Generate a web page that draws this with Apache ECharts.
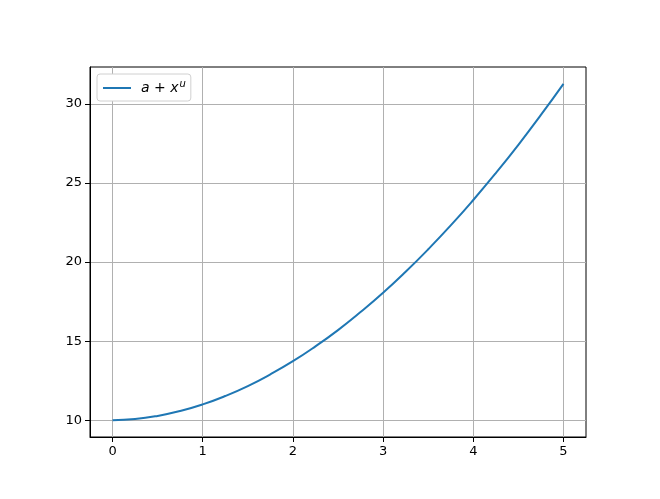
<!DOCTYPE html>
<html>
<head>
<meta charset="utf-8">
<script src="https://cdn.jsdelivr.net/npm/echarts@6/dist/echarts.min.js"></script>
<style>
  html, body { margin: 0; padding: 0; background: #fff; }
  #chart { width: 660px; height: 499px; }
</style>
</head>
<body>
<div id="chart"></div>
<script>
// 点
const xs = [0, 0.25, 0.5, 0.75, 1, 1.25, 1.5, 1.75, 2, 2.25, 2.5, 2.75, 3, 3.25, 3.5, 3.75, 4, 4.25, 4.5, 4.75, 5]
const ys = [10, 10.07, 10.27, 10.58, 11, 11.53, 12.16, 12.9, 13.73, 14.67, 15.7, 16.84, 18.06, 19.39, 20.81, 22.32, 23.93, 25.63, 27.42, 29.31, 31.28]
const xTicks = [0, 1, 2, 3, 4, 5]
const yTicks = [10, 15, 20, 25, 30]
const seriesName = 'a + x^u'

const chart = echarts.init(document.getElementById('chart'))

// 坐标轴公共样式
const axisCommon = {
  axisLine: { show: true, onZero: false, lineStyle: { color: '#000', width: 1 } },
  axisTick: { show: true, inside: false, length: 5, lineStyle: { color: '#000', width: 1 } },
  axisLabel: { color: '#000', fontFamily: 'DejaVu Sans', fontSize: 13, margin: 8 },
  splitLine: { show: true, lineStyle: { color: '#b0b0b0', width: 1 } }
}

chart.setOption({
  animation: false,
  grid: {
    left: 90, right: 74, top: 67, bottom: 62,
    show: true, borderColor: '#000', borderWidth: 1, backgroundColor: 'transparent'
  },
  xAxis: Object.assign({}, axisCommon, {
    type: 'value', min: -0.25, max: 5.25,
    axisTick: Object.assign({}, axisCommon.axisTick, { customValues: xTicks }),
    axisLabel: Object.assign({}, axisCommon.axisLabel, { customValues: xTicks })
  }),
  yAxis: Object.assign({}, axisCommon, {
    type: 'value', min: 8.936, max: 32.344,
    axisTick: Object.assign({}, axisCommon.axisTick, { customValues: yTicks }),
    axisLabel: Object.assign({}, axisCommon.axisLabel, { customValues: yTicks })
  }),
  legend: {
    left: 97, top: 74,
    orient: 'vertical',
    backgroundColor: '#fff',
    borderColor: '#d0d0d0',
    borderWidth: 1,
    borderRadius: 3,
    padding: [5, 5, 6, 6],
    itemWidth: 28, itemHeight: 14, itemGap: 6,
    icon: 'path://M0,6 L28,6 L28,8 L0,8 Z',
    formatter: () => '{g|}{i|a} + {i|x}{s|u}',
    textStyle: {
      color: '#000', fontFamily: 'DejaVu Sans', fontSize: 14,
      rich: {
        g: { width: 5 },
        i: { fontStyle: 'italic', fontFamily: 'DejaVu Sans', fontSize: 14, color: '#000' },
        s: { fontStyle: 'italic', fontFamily: 'DejaVu Sans', fontSize: 10, color: '#000', padding: [0, 0, 8, 1] }
      }
    },
    data: [{ name: seriesName, itemStyle: { color: '#1f77b4' } }]
  },
  series: [{
    name: seriesName,
    type: 'line',
    data: xs.map((x, i) => [x, ys[i]]),
    smooth: true,
    showSymbol: false,
    lineStyle: { color: '#1f77b4', width: 2 },
    itemStyle: { color: '#1f77b4' }
  }]
})
</script>
</body>
</html>
